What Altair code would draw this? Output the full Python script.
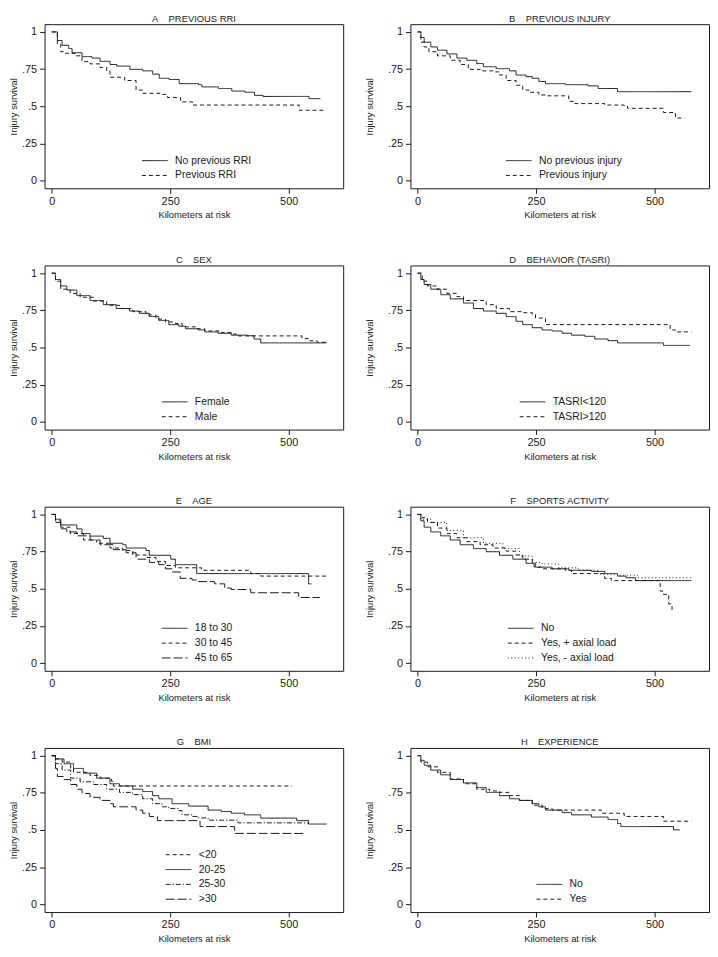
import altair as alt
import pandas as pd

FONT = "Liberation Sans"
INK = "#1a1a1a"
NB = "\u00a0\u00a0\u00a0\u00a0"

# ---------------- data ----------------
A_LABELS = ["No previous RRI", "Previous RRI"]
A_KM = [[0, 12, 22, 36, 43, 64, 85, 102, 123, 137, 165, 192, 213, 227, 248, 269, 310, 317, 352, 380, 408, 428, 446, 543, 567],
        [0, 12, 19, 29, 50, 64, 81, 102, 116, 123, 154, 178, 192, 234, 244, 272, 297, 522, 578]]
A_S = [[1, .942, .910, .888, .860, .834, .824, .802, .781, .770, .748, .738, .716, .688, .680, .652, .645, .630, .619, .602, .594, .573, .566, .551, .551],
       [1, .920, .867, .856, .839, .800, .785, .760, .738, .695, .673, .609, .587, .580, .559, .529, .508, .473, .473]]

B_LABELS = ["No previous injury", "Previous injury"]
B_KM = [[0, 7, 14, 28, 42, 62, 83, 104, 125, 139, 166, 194, 208, 229, 242, 256, 270, 312, 360, 381, 422, 578],
        [0, 7, 14, 24, 42, 69, 90, 107, 132, 159, 173, 187, 208, 222, 235, 256, 270, 319, 332, 395, 436, 443, 519, 544, 564]]
B_S = [[1, .963, .931, .899, .877, .852, .824, .809, .787, .766, .753, .738, .710, .699, .688, .667, .652, .645, .637, .619, .598, .598],
       [1, .931, .899, .867, .839, .809, .781, .748, .738, .731, .710, .673, .641, .609, .594, .576, .570, .533, .518, .508, .501, .486, .458, .421, .421]]

C_LABELS = ["Female", "Male"]
C_KM = [[0, 8, 19, 32, 53, 81, 109, 136, 164, 185, 206, 226, 247, 268, 282, 310, 323, 351, 379, 413, 427, 441, 580],
        [0, 8, 19, 39, 60, 88, 116, 143, 171, 199, 220, 240, 261, 275, 303, 323, 358, 379, 393, 528, 545, 560, 580]]
C_S = [[1, .957, .914, .886, .849, .816, .788, .762, .745, .730, .708, .682, .654, .644, .626, .618, .605, .596, .583, .579, .557, .531, .531],
       [1, .946, .892, .864, .838, .812, .784, .762, .741, .719, .691, .672, .661, .639, .626, .611, .600, .590, .578, .560, .545, .535, .535]]

D_LABELS = ["TASRI<120", "TASRI>120"]
D_KM = [[0, 7, 14, 28, 49, 69, 97, 118, 139, 166, 187, 208, 222, 242, 263, 284, 305, 325, 353, 374, 402, 422, 519, 575],
        [0, 10, 21, 42, 62, 83, 97, 145, 166, 194, 222, 242, 249, 270, 533, 544, 578]]
D_S = [[1, .957, .924, .892, .855, .827, .799, .762, .745, .730, .708, .676, .654, .633, .618, .611, .596, .583, .575, .557, .546, .531, .514, .514],
       [1, .946, .914, .892, .864, .842, .816, .788, .762, .741, .734, .724, .698, .654, .618, .605, .605]]

E_LABELS = ["18 to 30", "30 to 45", "45 to 65"]
E_KM = [[0, 8, 19, 53, 64, 81, 109, 123, 150, 157, 199, 206, 251, 261, 306, 542, 548],
        [0, 8, 19, 39, 67, 95, 123, 150, 171, 199, 220, 240, 261, 316, 420, 441, 580],
        [0, 8, 19, 32, 53, 81, 102, 130, 157, 178, 206, 226, 240, 254, 271, 296, 310, 344, 365, 379, 420, 521, 566]]
E_S = [[1, .968, .929, .903, .871, .854, .839, .806, .796, .774, .757, .725, .699, .662, .602, .533, .533],
       [1, .957, .914, .871, .828, .806, .774, .757, .727, .710, .684, .656, .641, .624, .602, .585, .585],
       [1, .946, .903, .882, .856, .828, .796, .763, .742, .699, .677, .662, .634, .613, .570, .559, .548, .533, .505, .495, .473, .441, .441]]

F_LABELS = ["No", "Yes, + axial load", "Yes, - axial load"]
F_KM = [[0, 7, 14, 28, 49, 69, 90, 118, 145, 173, 201, 229, 249, 284, 319, 367, 395, 422, 440, 460, 578],
        [0, 10, 21, 42, 62, 83, 104, 132, 159, 187, 208, 222, 242, 246, 263, 312, 325, 395, 409, 512, 519, 530, 537],
        [0, 7, 28, 62, 97, 139, 180, 215, 242, 263, 298, 339, 381, 422, 464, 578]]
F_S = [[1, .957, .914, .882, .856, .828, .796, .770, .749, .725, .699, .671, .645, .634, .624, .617, .602, .585, .574, .555, .555],
       [1, .978, .946, .908, .871, .843, .817, .796, .774, .753, .727, .699, .677, .645, .634, .624, .602, .570, .555, .484, .462, .398, .355],
       [1, .968, .946, .892, .843, .806, .770, .720, .677, .667, .641, .624, .598, .591, .574, .574]]

G_LABELS = ["<20", "20-25", "25-30", ">30"]
G_KM = [[0, 8, 22, 40, 46, 81, 102, 126, 130, 507],
        [0, 8, 26, 46, 67, 95, 123, 143, 171, 192, 213, 226, 254, 289, 330, 358, 379, 407, 441, 517, 542, 580],
        [0, 8, 22, 40, 60, 88, 116, 143, 171, 192, 213, 233, 247, 268, 275, 296, 310, 330, 393, 542],
        [0, 8, 12, 26, 40, 53, 64, 81, 102, 123, 130, 178, 192, 206, 223, 313, 386, 531]]
G_S = [[1, .978, .957, .918, .888, .867, .849, .828, .796, .796],
       [1, .978, .946, .914, .882, .849, .811, .796, .774, .759, .731, .710, .677, .661, .634, .624, .613, .602, .580, .563, .540, .540],
       [1, .946, .903, .849, .824, .806, .774, .753, .738, .710, .677, .656, .645, .630, .602, .591, .581, .566, .548, .548],
       [1, .914, .860, .839, .806, .774, .746, .720, .699, .677, .656, .634, .613, .591, .563, .523, .477, .477]]

H_LABELS = ["No", "Yes"]
H_KM = [[0, 7, 14, 28, 49, 69, 97, 125, 145, 173, 194, 215, 242, 256, 270, 305, 325, 367, 402, 422, 429, 540, 554],
        [0, 7, 21, 42, 69, 97, 125, 152, 173, 194, 215, 242, 263, 284, 388, 436, 519, 578]]
H_S = [[1, .968, .935, .903, .871, .839, .817, .785, .753, .731, .710, .699, .677, .656, .634, .617, .602, .587, .570, .544, .523, .501, .501],
       [1, .957, .925, .888, .843, .811, .774, .763, .753, .731, .699, .667, .645, .634, .613, .591, .559, .559]]

X_TICKS = [0, 250, 500]
Y_TICKS = [0, 0.25, 0.5, 0.75, 1]

# line patterns
SOLID = [1, 0]
DASH = [4, 3]
LONG = [9, 3]
DOT = [1, 2.5]
DASHDOT = [5, 2, 1.2, 2]

PANELS = [
    ("A", "PREVIOUS RRI", A_LABELS, A_KM, A_S, [SOLID, DASH], 98),
    ("B", "PREVIOUS INJURY", B_LABELS, B_KM, B_S, [SOLID, DASH], 96),
    ("C", "SEX", C_LABELS, C_KM, C_S, [SOLID, DASH], 118),
    ("D", "BEHAVIOR (TASRI)", D_LABELS, D_KM, D_S, [SOLID, DASH], 110),
    ("E", "AGE", E_LABELS, E_KM, E_S, [SOLID, DASH, LONG], 118),
    ("F", "SPORTS ACTIVITY", F_LABELS, F_KM, F_S, [SOLID, DASH, DOT], 98),
    ("G", "BMI", G_LABELS, G_KM, G_S, [DASH, SOLID, DASHDOT, LONG], 122),
    ("H", "EXPERIENCE", H_LABELS, H_KM, H_S, [SOLID, DASH], 127),
]

W = 302
H = 166


def panel(i, letter, name, labels, kms, survs, dashes, lx):
    rows = []
    for lab, ks, ss in zip(labels, kms, survs):
        for k, s in zip(ks, ss):
            rows.append({"km": k, "surv": s, "group": lab})
    df = pd.DataFrame(rows)
    n = len(labels)
    ly = H - 13 - 15 * (n - 1) - 6.5
    col = i % 2
    return alt.Chart(df).mark_line(
        interpolate="step-after", color=INK, strokeWidth=1, clip=True
    ).encode(
        x=alt.X("km:Q",
                scale=alt.Scale(domain=[-15, 615], nice=False, zero=False),
                axis=alt.Axis(values=X_TICKS, title="Kilometers at risk",
                              labelPadding=2, titlePadding=4)),
        y=alt.Y("surv:Q",
                scale=alt.Scale(domain=[-0.052, 1.052], nice=False, zero=False),
                axis=alt.Axis(values=Y_TICKS, title="Injury survival",
                              labelPadding=3,
                              titlePadding=3 if col == 0 else 13,
                              labelExpr="datum.value == 0 ? '0' : datum.value == 1 ? '1' : slice(format(datum.value, '.2~f'), 1)")),
        strokeDash=alt.StrokeDash(
            "group:N",
            scale=alt.Scale(domain=labels, range=dashes),
            legend=alt.Legend(
                title=None, orient="none", legendX=lx, legendY=ly,
                symbolType="M-1,0H1", symbolSize=676, symbolStrokeWidth=1,
                symbolStrokeColor=INK, labelFont=FONT, labelFontSize=10.5,
                labelColor=INK, labelOffset=7, clipHeight=13, rowPadding=2,
                padding=0, labelLimit=300)),
    ).properties(
        width=W, height=H,
        title=alt.TitleParams(text=letter + NB + name, font=FONT, fontSize=9.5,
                              fontWeight="normal", color=INK, offset=1,
                              frame="group", anchor="middle"),
    )


charts = [panel(i, *p) for i, p in enumerate(PANELS)]

chart = alt.concat(
    *charts, columns=2, spacing={"row": 78, "column": 68}, bounds="flush"
).resolve_scale(
    x="independent", y="independent", strokeDash="independent"
).resolve_legend(
    strokeDash="independent"
).properties(
    padding=0, background="white"
).configure_view(
    stroke=INK, strokeWidth=1
).configure_axis(
    domain=False, grid=False, tickColor=INK, tickSize=5, tickWidth=1,
    labelFont=FONT, labelFontSize=11, labelColor=INK,
    titleFont=FONT, titleFontSize=9.5, titleFontWeight="normal", titleColor=INK,
)

chart.save("out.html", embed_options={"renderer": "svg", "actions": False})
